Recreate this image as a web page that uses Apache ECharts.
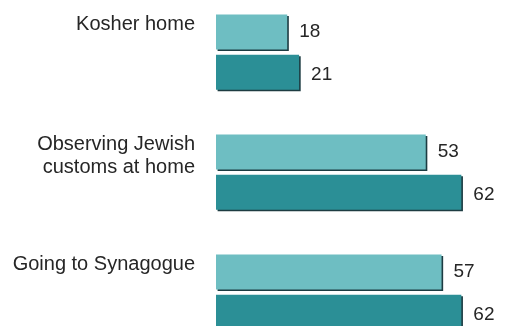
<!DOCTYPE html>
<html>
<head>
<meta charset="utf-8">
<style>
  html, body { margin: 0; padding: 0; background: #ffffff; }
  #chart { width: 507px; height: 326px; }
</style>
<script src="https://cdn.jsdelivr.net/npm/echarts@6/dist/echarts.min.js"></script>
</head>
<body>
<div id="chart"></div>
<script>
// Practices, two survey groups per category
const categories = ['Kosher home', 'Observing Jewish\ncustoms at home', 'Going to Synagogue'];
const groupA = [18, 53, 57];
const groupB = [21, 62, 62];

const FONT = '"Liberation Sans", Arial, Helvetica, sans-serif';
const chart = echarts.init(document.getElementById('chart'), null, { renderer: 'canvas' });

const barStyle = (fill) => ({
  color: fill,
  shadowColor: '#1d3c42',
  shadowBlur: 0,
  shadowOffsetX: 1.6,
  shadowOffsetY: 1.6
});

const valueLabel = (dy) => ({
  show: true,
  position: 'right',
  distance: 12,
  offset: [0, dy],
  color: '#262626',
  fontFamily: FONT,
  fontSize: 19
});

chart.setOption({
  animation: false,
  backgroundColor: '#ffffff',
  grid: [
    { left: 216, width: 277, top: -8, height: 360, containLabel: false, outerBoundsMode: 'none' },
    // category captions sit above each pair of bars
    { left: 216, width: 277, top: -47, height: 360, containLabel: false, outerBoundsMode: 'none' }
  ],
  xAxis: [
    { gridIndex: 0, type: 'value', min: 0, max: 70, show: false },
    { gridIndex: 1, type: 'value', min: 0, max: 70, show: false }
  ],
  yAxis: [
    {
      gridIndex: 0, type: 'category', inverse: true, data: categories,
      axisLine: { show: false }, axisTick: { show: false }, axisLabel: { show: false },
      splitLine: { show: false }
    },
    {
      gridIndex: 1, type: 'category', inverse: true, data: categories,
      axisLine: { show: false }, axisTick: { show: false }, splitLine: { show: false },
      axisLabel: {
        show: true,
        margin: 21,
        align: 'right',
        verticalAlign: 'top',
        lineHeight: 23,
        color: '#262626',
        fontFamily: FONT,
        fontSize: 20
      }
    }
  ],
  series: [
    {
      type: 'bar', xAxisIndex: 0, yAxisIndex: 0,
      data: groupA, barWidth: 35, barGap: '15%',
      itemStyle: barStyle('#6ebec2'),
      label: valueLabel(0)
    },
    {
      type: 'bar', xAxisIndex: 0, yAxisIndex: 0,
      data: groupB, barWidth: 35, barGap: '15%',
      itemStyle: barStyle('#2b8f96'),
      label: valueLabel(3)
    }
  ]
});
</script>
</body>
</html>
